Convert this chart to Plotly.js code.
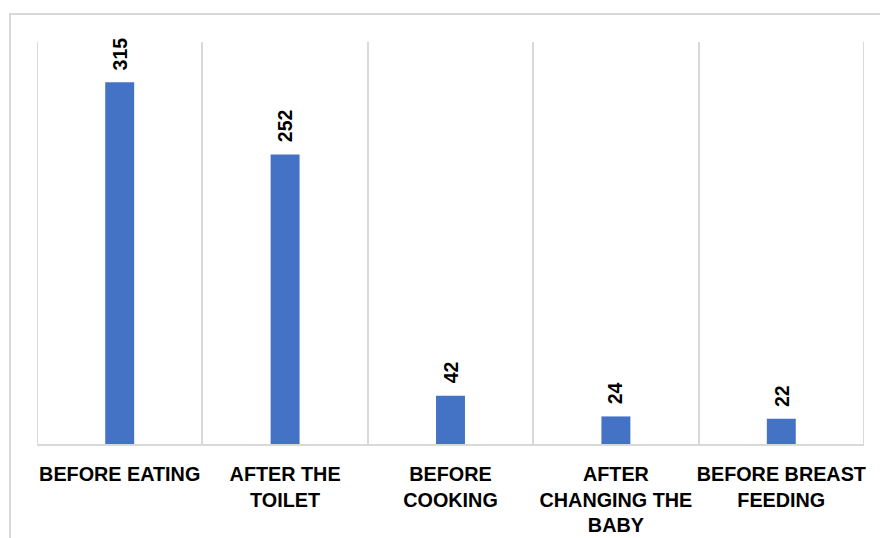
<!DOCTYPE html>
<html>
<head>
<meta charset="utf-8">
<script src="https://cdn.plot.ly/plotly-3.0.1.min.js"></script>
<style>html,body{margin:0;padding:0;background:#fff;} #chart{width:880px;height:538px;}</style>
</head>
<body>
<div id="chart"></div>
<script>
const categories = ["BEFORE EATING", "AFTER THE<br>TOILET", "BEFORE<br>COOKING", "AFTER<br>CHANGING THE<br>BABY", "BEFORE BREAST<br>FEEDING"];
const values = [315, 252, 42, 24, 22];

const xIdx = categories.map((c, i) => i);

const trace = {
  type: 'bar',
  x: xIdx,
  y: values,
  width: 0.175,
  marker: {color: '#4472C4'},
  hoverinfo: 'none'
};

const L = 37, R = 16, T = 42, B = 94, W = 880, H = 538;
const pw = W - L - R, ph = H - T - B;
const px = v => (v - L) / pw;
const py = v => 1 - (v - T) / ph;

const labelFont = {family: 'Liberation Sans, Arial, sans-serif', size: 19.5, color: '#000', weight: 'bold'};

const annotations = values.map((v, i) => ({
  x: i, y: v, xref: 'x', yref: 'y',
  text: String(v),
  showarrow: false,
  textangle: -90,
  xanchor: 'center', yanchor: 'bottom',
  yshift: 10,
  font: labelFont
}));

const layout = {
  width: W, height: H,
  margin: {l: L, r: R, t: T, b: B, pad: 0},
  paper_bgcolor: '#fff', plot_bgcolor: '#fff',
  showlegend: false,
  font: {family: 'Liberation Sans, Arial, sans-serif', color: '#000'},
  xaxis: {
    type: 'linear',
    range: [-0.5, 4.5],
    tickvals: xIdx,
    ticktext: categories,
    showgrid: false,
    zeroline: false,
    showline: true, linecolor: '#d9d9d9', linewidth: 2,
    ticks: 'outside', ticklen: 11, tickcolor: 'rgba(0,0,0,0)',
    tickfont: {family: 'Liberation Sans, Arial, sans-serif', size: 19.8, color: '#000', weight: 'bold'},
    tickangle: 0,
    minor: {tick0: -0.5, dtick: 1, showgrid: true, gridcolor: '#d9d9d9', gridwidth: 2, ticks: ''},
    fixedrange: true
  },
  yaxis: {
    range: [0, 350],
    showgrid: false, zeroline: false, showticklabels: false, showline: false, ticks: '',
    fixedrange: true
  },
  annotations: annotations,
  shapes: [
    {type: 'line', xref: 'x', yref: 'paper', x0: -0.5, x1: -0.5, y0: 0, y1: 1, line: {color: '#d9d9d9', width: 2}, layer: 'below'},
    {type: 'line', xref: 'x', yref: 'paper', x0: 4.5, x1: 4.5, y0: 0, y1: 1, line: {color: '#d9d9d9', width: 2}, layer: 'below'},
    {type: 'rect', xref: 'paper', yref: 'paper', x0: px(10), x1: px(895), y0: py(14), y1: py(560), line: {color: '#d9d9d9', width: 2}, fillcolor: 'rgba(0,0,0,0)'}
  ]
};

Plotly.newPlot('chart', [trace], layout, {displayModeBar: false, staticPlot: true});
</script>
</body>
</html>
